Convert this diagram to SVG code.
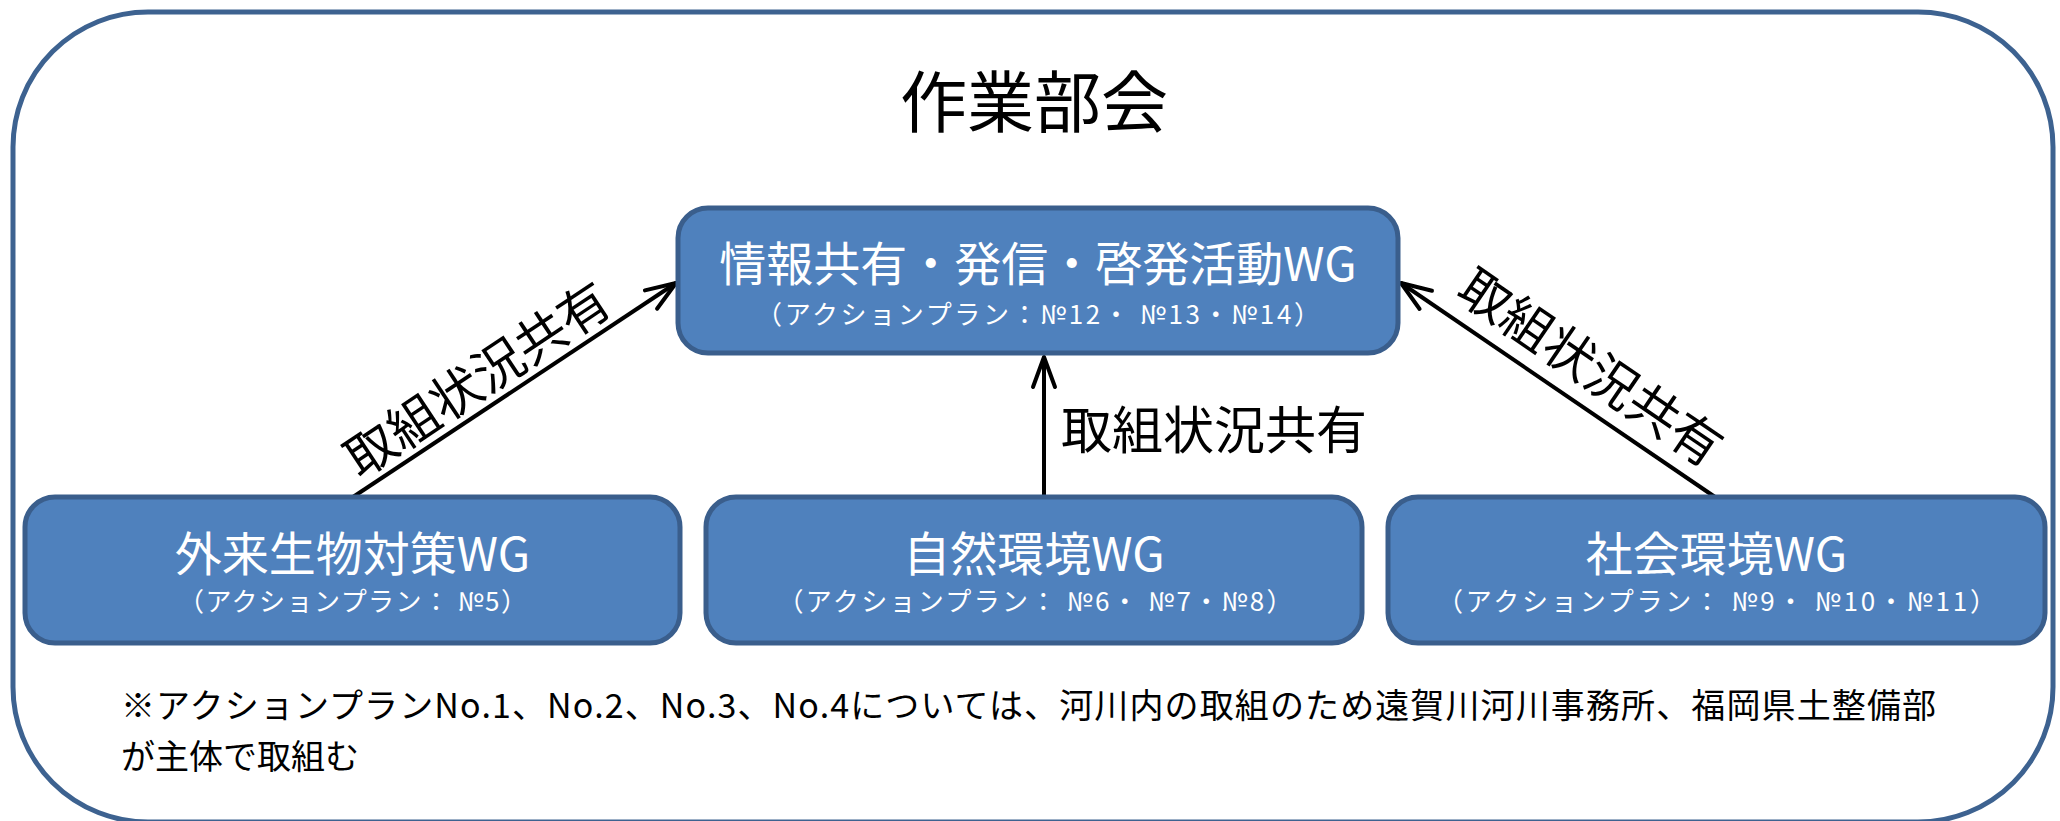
<svg xmlns="http://www.w3.org/2000/svg" width="2060" height="821" viewBox="0 0 2060 821">
<style>
text { font-family: "Noto Sans CJK JP", "Noto Sans", sans-serif; }
.frame { fill: #ffffff; stroke: #3D6290; stroke-width: 5; }
.box { fill: #4F81BD; stroke: #3A5E8C; stroke-width: 5; }
.main { fill: #ffffff; font-size: 47px; text-anchor: middle; }
.sub { fill: #ffffff; font-size: 26px; text-anchor: middle; }
.title { fill: #000000; font-size: 67px; text-anchor: middle; }
.lbl { fill: #000000; font-size: 51px; }
.note { fill: #000000; font-size: 34px; }
.conn { stroke: #000000; stroke-width: 4; fill: none; marker-end: url(#arr); }
</style>
<defs>
<marker id="arr" markerUnits="userSpaceOnUse" markerWidth="40" markerHeight="30" viewBox="-36 -15 40 30" refX="0" refY="0" orient="auto" overflow="visible">
<path d="M-30,-11 L0,0 L-30,11" fill="none" stroke="#000000" stroke-width="4" stroke-linejoin="round" stroke-linecap="round"/>
</marker>
</defs>

<rect id="frame" class="frame" x="13" y="12" width="2040" height="810" rx="135" ry="135"/>
<text id="title" class="title" x="1034" y="127">作業部会</text>

<g id="connectors">
<line class="conn" x1="353" y1="497" x2="676" y2="283"/>
<line class="conn" x1="1044" y1="497" x2="1044" y2="357"/>
<line class="conn" x1="1715" y1="497" x2="1401" y2="283"/>
<text class="lbl" text-anchor="middle" transform="translate(477,379) rotate(-33.6)" x="0" y="19">取組状況共有</text>
<text class="lbl" x="1061" y="449">取組状況共有</text>
<text class="lbl" text-anchor="middle" transform="translate(1591,367) rotate(34.3)" x="0" y="19">取組状況共有</text>
</g>

<g id="wg-info">
<rect class="box" x="678" y="208" width="720" height="145" rx="30" ry="30"/>
<text class="main" x="1038" y="281">情報共有・発信・啓発活動WG</text>
<text class="sub" x="1038" y="324" textLength="564" lengthAdjust="spacing">（アクションプラン：№12・ №13・№14）</text>
</g>

<g id="wg-alien">
<rect class="box" x="25" y="497" width="655" height="146" rx="30" ry="30"/>
<text class="main" x="352.5" y="571">外来生物対策WG</text>
<text class="sub" x="352.5" y="611" textLength="349" lengthAdjust="spacing">（アクションプラン： №5）</text>
</g>

<g id="wg-nature">
<rect class="box" x="706" y="497" width="656" height="146" rx="30" ry="30"/>
<text class="main" x="1034" y="571">自然環境WG</text>
<text class="sub" x="1035" y="611" textLength="515" lengthAdjust="spacing">（アクションプラン： №6・ №7・№8）</text>
</g>

<g id="wg-social">
<rect class="box" x="1388" y="497" width="657" height="146" rx="30" ry="30"/>
<text class="main" x="1716.5" y="571">社会環境WG</text>
<text class="sub" x="1716.5" y="611" textLength="559" lengthAdjust="spacing">（アクションプラン： №9・ №10・№11）</text>
</g>

<g id="note">
<text class="note" x="121" y="718" textLength="1815" lengthAdjust="spacing">※アクションプランNo.1、No.2、No.3、No.4については、河川内の取組のため遠賀川河川事務所、福岡県土整備部</text>
<text class="note" x="121" y="769">が主体で取組む</text>
</g>
</svg>
